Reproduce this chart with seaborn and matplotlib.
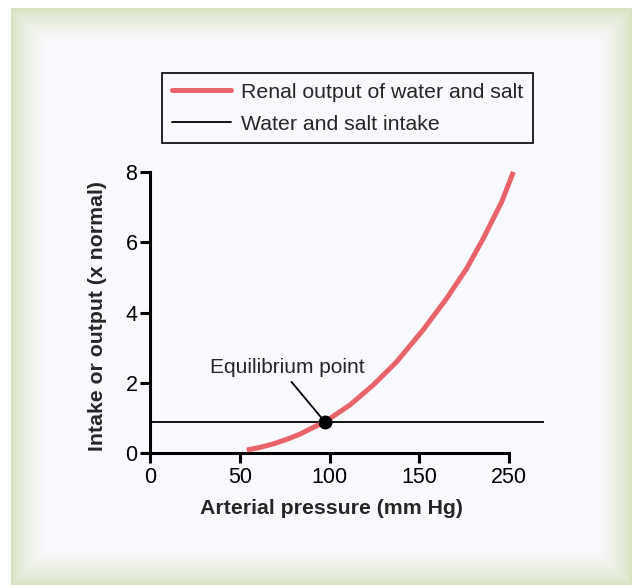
import numpy as np
import pandas as pd
import matplotlib.pyplot as plt
import seaborn as sns
from matplotlib.lines import Line2D

sns.set_theme(style="white")
plt.rcParams["font.family"] = ["Liberation Sans", "DejaVu Sans"]

# Renal output curve (x in axis units; the "250" tick sits where 200 would be)
pressure = [53.9, 61.3, 68.7, 76.2, 83.6, 91.0, 97.5, 111.4, 124.4, 137.4, 152.3, 165.3,
            176.4, 185.7, 195.9, 202.4]
output = [0.085, 0.16, 0.26, 0.39, 0.54, 0.73, 0.89, 1.37, 1.94, 2.60, 3.52, 4.41,
          5.26, 6.12, 7.16, 8.01]

intake_level = 0.88
intake_span = [0, 219.5]
equilibrium = (97.5, 0.88)

x_ticks = [0, 50, 100, 150, 200]
x_tick_labels = ["0", "50", "100", "150", "250"]
y_ticks = [0, 2, 4, 6, 8]

red = "#e9636a"
W, H = 632, 585
fig = plt.figure(figsize=(W / 100, H / 100), dpi=100)
fig.patch.set_facecolor("white")

# framed background: green border fading into near-white panel
bg = fig.add_axes([0, 0, 1, 1], zorder=-5)
yy, xx = np.mgrid[0:H, 0:W]
left, top = 11, 8
d = np.minimum.reduce([xx - left, yy - top, (W - 1) - xx, (H - 1) - yy]).astype(float)
t = np.clip(d / 34.0, 0, 1) ** 0.7
green = np.array([216, 226, 192]) / 255
inner = np.array([249, 250, 253]) / 255
img = green[None, None, :] * (1 - t[..., None]) + inner[None, None, :] * t[..., None]
outside = (xx < left) | (yy < top)
img[outside] = 1.0
bg.imshow(img, aspect="auto", interpolation="nearest")
bg.axis("off")

ax = fig.add_axes([150 / W, 1 - 453 / H, 395 / W, (453 - 161.7) / H])
ax.set_facecolor("none")

curve = pd.DataFrame({"pressure": pressure, "output": output})
sns.lineplot(data=curve, x="pressure", y="output", sort=False, color=red, lw=3.6,
             ax=ax, zorder=3, clip_on=False, solid_capstyle="butt", solid_joinstyle="round")
ax.hlines(intake_level, intake_span[0], intake_span[1], color="black", lw=1.3, zorder=2)
ax.plot(*equilibrium, "o", color="black", ms=9, zorder=5)

ax.annotate("Equilibrium point", xy=equilibrium, xytext=(76.3, 2.45),
            ha="center", va="center", fontsize=15,
            arrowprops=dict(arrowstyle="-", color="black", lw=1.3,
                            relpos=(0.5, 0), shrinkA=2, shrinkB=0))

ax.set_xlim(0, 220)
ax.set_ylim(0, 8.3)
ax.set_xticks(x_ticks)
ax.set_xticklabels(x_tick_labels)
ax.set_yticks(y_ticks)
for s in ["top", "right"]:
    ax.spines[s].set_visible(False)
for s in ["left", "bottom"]:
    ax.spines[s].set_linewidth(2.2)
    ax.spines[s].set_color("black")
ax.spines["bottom"].set_bounds(0, 200)
ax.spines["left"].set_bounds(0, 8)
ax.tick_params(axis="both", direction="out", length=7, width=2.2, color="black",
               labelsize=15.5, labelcolor="black", bottom=True, left=True)
ax.tick_params(axis="x", pad=3)
ax.tick_params(axis="y", pad=2)

ax.set_xlabel("Arterial pressure (mm Hg)", fontsize=15.3, fontweight="bold", va="center")
ax.set_ylabel("Intake or output (x normal)", fontsize=15.3, fontweight="bold", va="center")
ax.xaxis.set_label_coords((331 - 150) / 395, -(508 - 453) / 291.3)
ax.yaxis.set_label_coords((98 - 150) / 395, (453 - 316) / 291.3)

handles = [Line2D([], [], color=red, lw=3.6), Line2D([], [], color="black", lw=1.3)]
leg = fig.legend(handles, ["Renal output of water and salt", "Water and salt intake"],
                 loc="upper left", bbox_to_anchor=(162 / W, 1 - 73 / H), fontsize=15.3,
                 frameon=True, fancybox=False, edgecolor="black", facecolor=tuple(inner),
                 framealpha=1, handlelength=2.8, handletextpad=0.48, labelspacing=0.62,
                 borderpad=0.45, borderaxespad=0)
leg.get_frame().set_linewidth(1.2)

fig.savefig("out.png", dpi=100)
